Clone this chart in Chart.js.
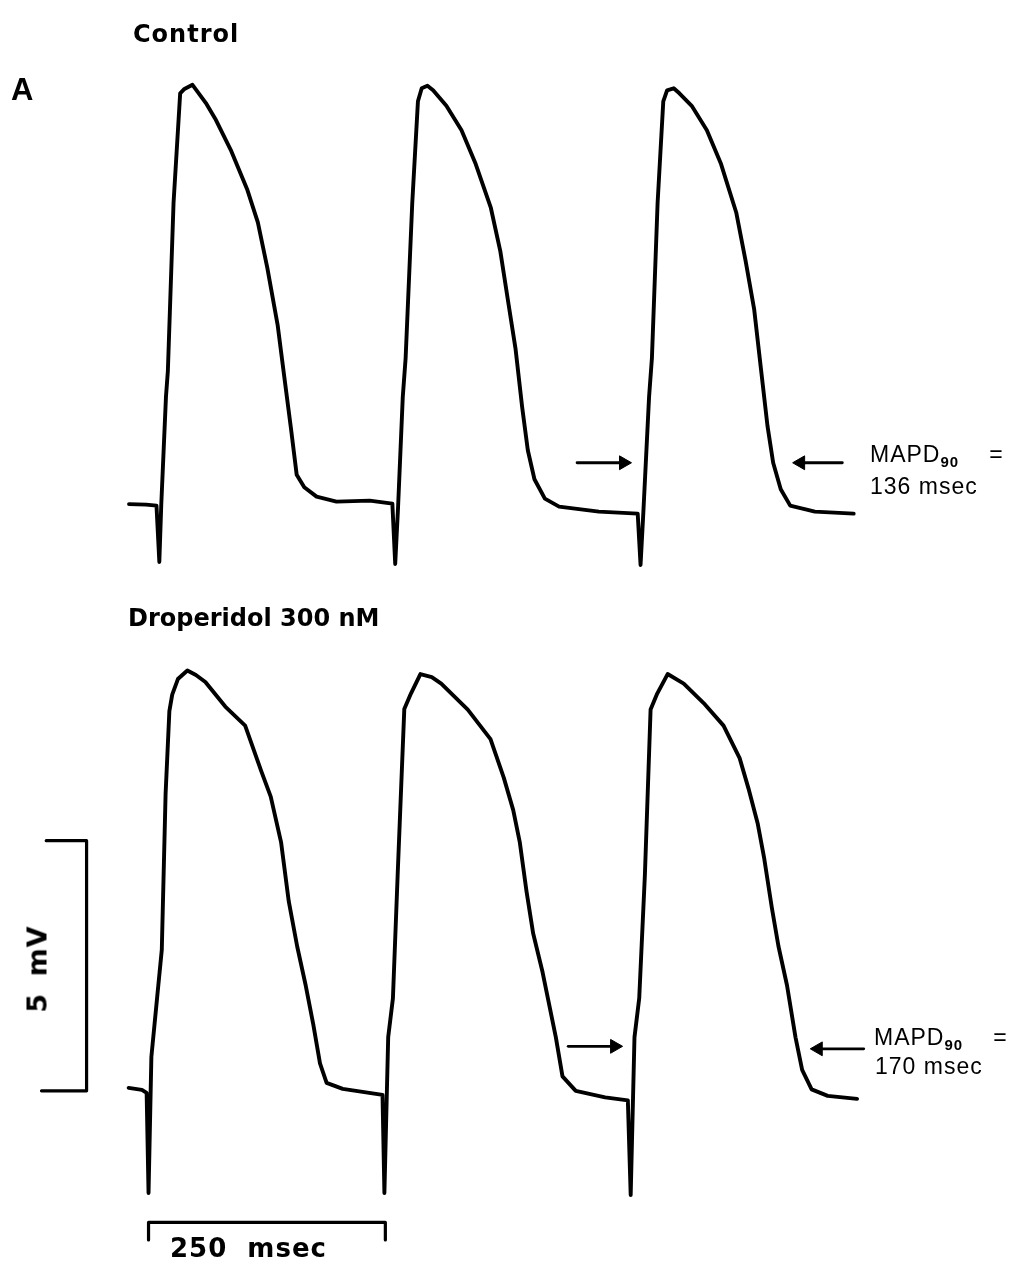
<!DOCTYPE html>
<html>
<head>
<meta charset="utf-8">
<script src="https://cdn.jsdelivr.net/npm/chart.js@4.4.1/dist/chart.umd.min.js"></script>
<style>
  body { margin: 0; background: #fff; }
  #wrap { position: relative; width: 1033px; height: 1278px; overflow: hidden; }
  canvas { position: absolute; left: 0; }
  .lbl { position: absolute; line-height: 1; white-space: nowrap; color: #000; }
  .head { font-family: "DejaVu Sans", sans-serif; font-weight: bold; font-size: 24px; }
  .mapd { font-family: "Liberation Sans", Arial, sans-serif; font-size: 23px; letter-spacing: 1px; }
  .mapd .sub { font-size: 15px; font-weight: bold; position: relative; top: 5px; }
</style>
</head>
<body>
<div id="wrap">
  <canvas id="topCanvas" width="1033" height="600" style="top:0"></canvas>
  <canvas id="bottomCanvas" width="1033" height="678" style="top:600px"></canvas>

  <div class="lbl" style="left:11px; top:74px; font-family:'Liberation Sans',Arial,sans-serif; font-weight:bold; font-size:31px;">A</div>
  <div class="lbl head" style="left:133px; top:22px; letter-spacing:1px;">Control</div>
  <div class="lbl head" style="left:128px; top:606px;">Droperidol 300 nM</div>

  <div class="lbl mapd" style="left:870px; top:443px;">MAPD<span class="sub">90</span><span style="margin-left:30px">=</span></div>
  <div class="lbl mapd" style="left:870px; top:475px;">136 msec</div>
  <div class="lbl mapd" style="left:874px; top:1026px;">MAPD<span class="sub">90</span><span style="margin-left:30px">=</span></div>
  <div class="lbl mapd" style="left:875px; top:1055px;">170 msec</div>

  <div class="lbl head" style="left:37px; top:969px; font-size:27px; letter-spacing:1px; word-spacing:6px; transform:translate(-50%,-50%) rotate(-90deg);">5 mV</div>
  <div class="lbl head" style="left:170px; top:1235px; font-size:26px; letter-spacing:1px; word-spacing:10px;">250 msec</div>
</div>

<script>
// Control trace (ms from first stimulus, mV from baseline)
const controlTime = [-32, -14, -3, 0, 2, 7, 9, 15, 22, 26, 35, 49, 59, 76, 93, 104, 114, 125, 132, 139,
  145, 153, 166, 187, 222, 246, 249, 252, 257, 260, 267, 273, 277, 283, 289, 303, 319, 334, 350, 360,
  368, 376, 383, 389, 396, 407, 422, 464, 505, 508, 511, 517, 520, 526, 532, 536, 543, 549, 562, 578,
  593, 609, 619, 628, 635, 642, 648, 656, 666, 692, 733];
const controlMV = [0.03, 0.02, 0, -1.13, 0, 2.18, 2.70, 6.07, 8.27, 8.35, 8.44, 8.08, 7.76, 7.11, 6.33, 5.68, 4.77, 3.61, 2.57, 1.54,
  0.62, 0.37, 0.18, 0.08, 0.10, 0.04, -1.17, -0.04, 2.18, 2.96, 6.07, 8.11, 8.37, 8.42, 8.33, 8.02, 7.53, 6.85, 5.97, 5.10,
  4.12, 3.15, 1.98, 1.11, 0.53, 0.14, -0.02, -0.12, -0.16, -1.19, -0.12, 2.18, 2.96, 6.07, 8.11, 8.33, 8.37, 8.27, 8.02, 7.53,
  6.85, 5.88, 4.90, 3.93, 2.76, 1.60, 0.86, 0.33, 0, -0.12, -0.16];

// Droperidol 300 nM trace
const droperidolTime = [-21, -7, -2, 0, 3, 9, 14, 18, 22, 25, 31, 41, 50, 60, 81, 102, 119, 129, 140, 148,
  157, 166, 174, 181, 188, 205, 226, 247, 249, 253, 258, 263, 270, 277, 287, 299, 309, 337, 361, 375,
  385, 392, 399, 406, 416, 423, 430, 437, 451, 482, 506, 509, 513, 518, 524, 530, 537, 548, 565, 586,
  607, 624, 634, 643, 650, 658, 665, 674, 683, 690, 700, 717, 748];
const droperidolMV = [0.06, 0.02, -0.04, -2.04, 0.68, 1.85, 2.82, 5.93, 7.59, 7.92, 8.23, 8.40, 8.31, 8.17, 7.68, 7.30, 6.39, 5.88, 4.96, 3.79,
  2.88, 2.10, 1.32, 0.55, 0.16, 0.04, -0.02, -0.08, -2.04, 1.07, 1.85, 4.32, 7.63, 7.94, 8.33, 8.27, 8.14, 7.62, 7.03, 6.26,
  5.61, 4.96, 3.99, 3.15, 2.37, 1.72, 1.07, 0.29, 0, -0.13, -0.19, -2.08, 1.07, 1.85, 4.32, 7.62, 7.94, 8.33, 8.14, 7.75,
  7.30, 6.65, 6.00, 5.35, 4.64, 3.66, 2.89, 2.11, 1.07, 0.42, 0.03, -0.10, -0.16];

// MAPD90 markers: [tail, head] in ms, at the 90% repolarisation level (mV)
const controlArrows = [[441, 490], [721, 677]];
const controlArrowMV = 0.86;
const droperidolArrows = [[443, 492], [755, 707]];
const droperidolArrowMV = [0.89, 0.84];

// calibration bars
const barMvTime = [-113, -65.4, -65.4, -108];
const barMvValue = [0, 0, 5, 5];
const barMsTime = [0, 0, 250, 250];
const barMsValue = [-2.98, -2.63, -2.63, -2.98];

const pts = (ts, vs) => ts.map((t, i) => ({ x: t, y: vs[i] }));

function traceSet(ts, vs, width) {
    return { data: pts(ts, vs), borderColor: '#000', borderWidth: width, pointRadius: 0, tension: 0,
             borderCapStyle: 'round', borderJoinStyle: 'round', fill: false };
}

function arrowSets(arrows, mvs) {
    const out = [];
    arrows.forEach(([tail, head], i) => {
        const mv = Array.isArray(mvs) ? mvs[i] : mvs;
        const dir = head > tail ? 1 : -1;
        out.push(traceSet([tail, head + dir * 3], [mv, mv], 2.8));
        out.push({ data: [{ x: head, y: mv }], showLine: false, pointStyle: 'triangle',
                   pointRadius: 8, pointRotation: dir > 0 ? 90 : -90,
                   backgroundColor: '#000', borderColor: '#000', borderWidth: 1 });
    });
    return out;
}

function makeChart(id, datasets, xr, yr) {
    return new Chart(document.getElementById(id).getContext('2d'), {
        type: 'line',
        data: { datasets },
        options: {
            responsive: false, animation: false, events: [],
            layout: { padding: 0 },
            plugins: { legend: { display: false }, tooltip: { enabled: false } },
            scales: {
                x: { type: 'linear', display: false, min: xr[0], max: xr[1] },
                y: { type: 'linear', display: false, min: yr[0], max: yr[1] }
            }
        }
    });
}

makeChart('topCanvas',
    [traceSet(controlTime, controlMV, 3.9), ...arrowSets(controlArrows, controlArrowMV)],
    [-158.7, 912.8], [-1.712, 9.961]);

makeChart('bottomCanvas',
    [traceSet(droperidolTime, droperidolMV, 3.9), ...arrowSets(droperidolArrows, droperidolArrowMV),
     traceSet(barMvTime, barMvValue, 3.2), traceSet(barMsTime, barMsValue, 3.2)],
    [-147.3, 924.2], [-3.560, 9.630]);
</script>
</body>
</html>
